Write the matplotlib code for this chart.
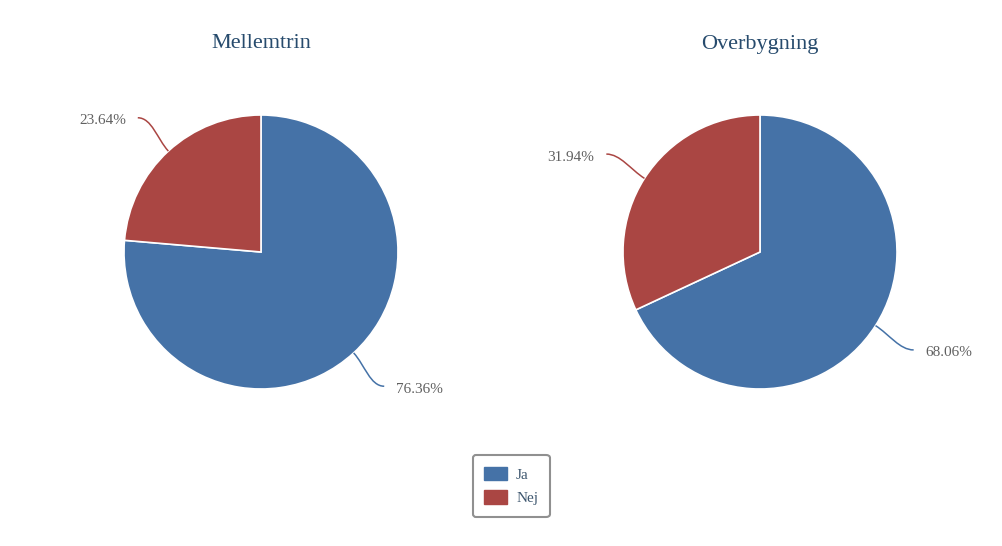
import numpy as np
import matplotlib.pyplot as plt
from matplotlib.path import Path
from matplotlib.patches import PathPatch, Patch

# data
titles = ['Mellemtrin', 'Overbygning']
categories = ['Ja', 'Nej']
values = [[76.36, 23.64], [68.06, 31.94]]
colors = ['#4572A7', '#AA4643']

W, H = 1002, 546
fig = plt.figure(figsize=(W / 100, H / 100), dpi=100)
plt.rcParams['font.family'] = ['Liberation Serif', 'DejaVu Serif']

R = 137
centers = [(261, 252), (760, 252)]
half = 200

for title, vals, (cx, cy) in zip(titles, values, centers):
    ax = fig.add_axes([(cx - half) / W, (H - cy - half) / H, 2 * half / W, 2 * half / H])

    wedges, _ = ax.pie(vals, colors=colors, startangle=90, counterclock=False,
                       radius=R, wedgeprops=dict(edgecolor='white', linewidth=1.2))
    # pie() nulstiller grænserne, så de sættes bagefter
    ax.set_xlim(-half, half)
    ax.set_ylim(-half, half)
    ax.set_aspect('equal')
    ax.axis('off')

    # labels med bløde forbindelseslinjer
    for w, v, c in zip(wedges, vals, colors):
        ang = np.deg2rad((w.theta1 + w.theta2) / 2)
        ca, sa = np.cos(ang), np.sin(ang)
        side = 1 if ca >= 0 else -1
        edge = (R * ca, R * sa)
        mid = (R * 1.12 * ca, R * 1.12 * sa)
        anchor = (R * 1.33 * ca, R * 1.33 * sa)
        p1 = (anchor[0] - side * 14, anchor[1])
        path = Path([anchor, p1, mid, edge],
                    [Path.MOVETO, Path.CURVE4, Path.CURVE4, Path.CURVE4])
        ax.add_patch(PathPatch(path, fill=False, edgecolor=c, linewidth=1.1))
        ax.text(anchor[0] + side * 12, anchor[1] - 3, f'{v:.2f}%', fontsize=11,
                color='#606060', ha='left' if side > 0 else 'right', va='center')

    fig.text(cx / W, 1 - 44 / H, title, fontsize=16, color='#274b6d',
             ha='center', va='center')

handles = [Patch(facecolor=c, edgecolor=c, label=lab) for c, lab in zip(colors, categories)]
leg = fig.legend(handles=handles, loc='center', bbox_to_anchor=(511 / W, 1 - 486 / H),
                 fontsize=11, frameon=True, fancybox=True, edgecolor='#909090',
                 facecolor='white', framealpha=1,
                 handlelength=1.5, handleheight=1.0, labelspacing=0.55,
                 borderpad=0.75, handletextpad=0.6)
leg.get_frame().set_linewidth(1.5)
for t in leg.get_texts():
    t.set_color('#3E576F')

fig.savefig('out.png', dpi=100)
